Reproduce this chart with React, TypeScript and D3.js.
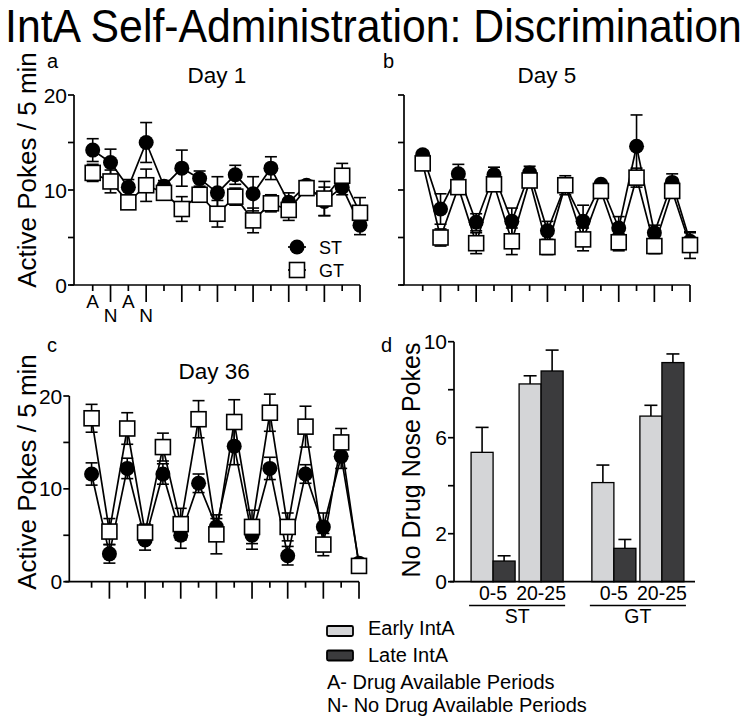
import React from 'react';
import * as d3 from 'd3';

// x categories for the time-course panels (A = drug available, N = no drug)
const periodTypes = ['A', 'N', 'A', 'N', 'A', 'N', 'A', 'N', 'A', 'N', 'A', 'N', 'A', 'N', 'A', 'N'];
const labelledPeriods = 4;

const yTicksLine = [0, 5, 10, 15, 20];
const yLabelsLine = [0, 10, 20];

// Day 1
const day1ST = [14.2, 12.9, 10.3, 15.0, 10.4, 12.3, 11.2, 9.7, 11.6, 9.6, 12.3, 8.7, 10.5, 8.8, 10.3, 6.3];
const day1STsem = [1.2, 1.4, 0.8, 2.1, 0.6, 1.9, 0.8, 1.7, 1.0, 1.8, 1.2, 1.0, 0.5, 1.5, 0.8, 1.0];
const day1GT = [11.8, 10.9, 8.7, 10.5, 9.7, 8.0, 9.5, 7.5, 9.3, 6.8, 8.6, 7.9, 10.2, 9.1, 11.5, 7.6];
const day1GTsem = [0.9, 1.2, 0.6, 1.7, 0.6, 1.3, 0.6, 1.4, 0.9, 1.3, 0.9, 1.1, 0.5, 1.8, 1.3, 1.6];

// Day 5
const day5ST = [13.7, 8.0, 11.7, 6.6, 11.6, 6.7, 11.8, 5.7, 10.5, 6.7, 10.6, 6.0, 14.6, 5.5, 10.8, 4.6];
const day5STsem = [0.4, 1.6, 1.0, 0.9, 0.8, 1.4, 0.7, 1.0, 1.0, 1.7, 0.3, 1.2, 3.3, 0.8, 0.9, 0.9];
const day5GT = [12.8, 5.0, 10.3, 4.4, 10.6, 4.6, 11.0, 4.0, 10.5, 4.8, 9.9, 4.5, 11.3, 4.1, 9.9, 4.2];
const day5GTsem = [0.6, 0.9, 0.5, 1.1, 0.5, 1.4, 0.5, 0.8, 0.4, 1.2, 0.2, 0.9, 1.0, 0.8, 0.6, 1.4];

// Day 36
const day36ST = [11.6, 3.0, 12.2, 4.5, 11.6, 5.0, 10.6, 5.9, 14.6, 5.0, 12.2, 2.8, 11.6, 5.9, 13.5, 2.0];
const day36STsem = [1.2, 1.0, 1.1, 1.1, 1.1, 1.4, 1.0, 0.9, 2.0, 1.5, 1.2, 1.0, 1.0, 1.5, 1.3, 0.3];
const day36GT = [17.6, 5.4, 16.5, 5.3, 14.5, 6.2, 17.5, 5.1, 17.2, 5.9, 18.2, 5.9, 16.7, 4.0, 15.0, 1.7];
const day36GTsem = [1.5, 1.4, 1.7, 0.9, 1.5, 1.7, 2.0, 2.1, 2.4, 1.8, 2.0, 1.5, 2.2, 1.2, 1.5, 0.3];

// Panel d
const groups = ['ST', 'GT'];
const windows = ['0-5', '20-25'];
const phases = ['Early IntA', 'Late IntA'];
const stEarly = [5.39, 8.24];
const stEarlySem = [1.04, 0.34];
const stLate = [0.86, 8.78];
const stLateSem = [0.22, 0.87];
const gtEarly = [4.13, 6.9];
const gtEarlySem = [0.73, 0.45];
const gtLate = [1.39, 9.13];
const gtLateSem = [0.37, 0.36];
const yTicksBar = [0, 2, 4, 6, 8, 10];
const yLabelsBar = [0, 2, 6, 10];

const FONT = 'Arial, "Liberation Sans", Helvetica, sans-serif';
const phaseFill = { 'Early IntA': '#d4d5d7', 'Late IntA': '#3b3b3d' };

type Series = { mean: number[]; sem: number[]; kind: 'circle' | 'square' };

const LinePanel = ({ left, right, top, bottom, xStart, title, titleY, letter, letterX, letterY, yLabels, series, showPeriodLabels }) => {
  const x = d3.scaleLinear().domain([xStart, periodTypes.length - 1]).range([left, right]);
  const y = d3.scaleLinear().domain([0, 20]).range([bottom, top]);
  const line = d3.line<number>().x((d, i) => x(i)).y(d => y(d));

  return (
    <g>
      <text x={letterX} y={letterY} fontSize={20}>{letter}</text>
      <text x={(left + right) / 2} y={titleY} fontSize={22.5} textAnchor="middle">{title}</text>

      {/* y axis */}
      <line x1={left} x2={left} y1={y(20)} y2={bottom} stroke="#000" strokeWidth={1.7} />
      {yTicksLine.map(t => (
        <line key={t} x1={left - 6} x2={left} y1={y(t)} y2={y(t)} stroke="#000" strokeWidth={1.7} />
      ))}
      {yLabels && yLabelsLine.map(t => (
        <text key={t} x={left - 7} y={y(t) + 7.5} fontSize={21} textAnchor="end">{t}</text>
      ))}

      {/* x axis */}
      <line x1={left - 4} x2={right} y1={bottom} y2={bottom} stroke="#000" strokeWidth={1.7} />
      {periodTypes.map((p, i) => (
        <line key={i} x1={x(i)} x2={x(i)} y1={bottom} y2={bottom + (p === 'N' ? 17 : 6)} stroke="#000" strokeWidth={1.7} />
      ))}
      {showPeriodLabels && periodTypes.slice(0, labelledPeriods).map((p, i) => (
        <text key={i} x={x(i)} y={bottom + (p === 'N' ? 37 : 23)} fontSize={19} textAnchor="middle">{p}</text>
      ))}

      {series.map((s: Series, si: number) => (
        <g key={si}>
          {s.mean.map((m, i) => (
            <g key={i} stroke="#000" strokeWidth={1.6}>
              <line x1={x(i)} x2={x(i)} y1={y(m - s.sem[i])} y2={y(m + s.sem[i])} />
              <line x1={x(i) - 6} x2={x(i) + 6} y1={y(m + s.sem[i])} y2={y(m + s.sem[i])} />
              <line x1={x(i) - 6} x2={x(i) + 6} y1={y(m - s.sem[i])} y2={y(m - s.sem[i])} />
            </g>
          ))}
          <path d={line(s.mean) || ''} fill="none" stroke="#000" strokeWidth={1.7} />
          {s.mean.map((m, i) => s.kind === 'circle'
            ? <circle key={i} cx={x(i)} cy={y(m)} r={7.5} fill="#000" />
            : <rect key={i} x={x(i) - 7.5} y={y(m) - 7.5} width={15} height={15} fill="#fff" stroke="#000" strokeWidth={1.6} />
          )}
        </g>
      ))}
    </g>
  );
};

const BarPanel = () => {
  const left = 454, right = 695, top = 341.7, bottom = 581.7;
  const y = d3.scaleLinear().domain([0, 10]).range([bottom, top]);
  const gx = d3.scaleBand().domain(groups).range([459, 696]).paddingInner(0.238).paddingOuter(0.1);
  const wx = d3.scaleBand().domain(windows).range([0, gx.bandwidth()]).paddingInner(0.0833);
  const px = d3.scaleBand().domain(phases).range([0, wx.bandwidth()]);

  const values = {
    ST: { 'Early IntA': [stEarly, stEarlySem], 'Late IntA': [stLate, stLateSem] },
    GT: { 'Early IntA': [gtEarly, gtEarlySem], 'Late IntA': [gtLate, gtLateSem] }
  };

  return (
    <g>
      <text x={381} y={352} fontSize={20}>d</text>
      <text transform={`translate(420,460) rotate(-90)`} fontSize={25} textAnchor="middle">No Drug Nose Pokes</text>

      <line x1={left} x2={left} y1={top} y2={bottom} stroke="#000" strokeWidth={1.7} />
      {yTicksBar.map(t => (
        <line key={t} x1={left - 6} x2={left} y1={y(t)} y2={y(t)} stroke="#000" strokeWidth={1.7} />
      ))}
      {yLabelsBar.map(t => (
        <text key={t} x={left - 7} y={y(t) + 7.5} fontSize={21} textAnchor="end">{t}</text>
      ))}

      {groups.map(g => (
        <g key={g}>
          {windows.map((w, wi) => phases.map(ph => {
            const [means, sems] = values[g][ph];
            const bx = gx(g) + wx(w) + px(ph);
            const bw = px.bandwidth();
            const m = means[wi];
            const e = m + sems[wi];
            return (
              <g key={w + ph}>
                <line x1={bx + bw / 2} x2={bx + bw / 2} y1={y(m)} y2={y(e)} stroke="#000" strokeWidth={1.6} />
                <line x1={bx + bw / 2 - 6.5} x2={bx + bw / 2 + 6.5} y1={y(e)} y2={y(e)} stroke="#000" strokeWidth={1.6} />
                <rect x={bx} y={y(m)} width={bw} height={bottom - y(m)} fill={phaseFill[ph]} stroke="#000" strokeWidth={1.3} />
              </g>
            );
          }))}
          {windows.map(w => (
            <text key={w} x={gx(g) + wx(w) + wx.bandwidth() / 2} y={600} fontSize={19.5} textAnchor="middle">{w}</text>
          ))}
          <line x1={gx(g) - 2} x2={gx(g) + gx.bandwidth() + 2} y1={605.5} y2={605.5} stroke="#000" strokeWidth={1.5} />
          <text x={gx(g) + gx.bandwidth() / 2} y={623} fontSize={19.5} textAnchor="middle">{g}</text>
        </g>
      ))}

      <line x1={left - 4} x2={right} y1={bottom} y2={bottom} stroke="#000" strokeWidth={1.7} />
    </g>
  );
};

export default function App() {
  return (
    <svg width={754} height={725} style={{ position: 'absolute', left: 0, top: 0, background: '#fff' }} fontFamily={FONT}>
      <rect width={754} height={725} fill="#fff" />
      <text transform="translate(5,42) scale(0.93,1)" fontSize={46}>IntA Self-Administration: Discrimination</text>

      <text transform="translate(36,170) rotate(-90)" fontSize={26} textAnchor="middle">Active Pokes / 5 min</text>
      <text transform="translate(36,472) rotate(-90)" fontSize={26} textAnchor="middle">Active Pokes / 5 min</text>

      <LinePanel left={74} right={360} top={95} bottom={285} xStart={-1.05} title="Day 1" titleY={83}
        letter="a" letterX={47} letterY={68} yLabels showPeriodLabels
        series={[{ mean: day1ST, sem: day1STsem, kind: 'circle' }, { mean: day1GT, sem: day1GTsem, kind: 'square' }]} />
      <LinePanel left={404} right={690} top={95} bottom={285} xStart={-1.05} title="Day 5" titleY={83}
        letter="b" letterX={383} letterY={68} yLabels={false} showPeriodLabels={false}
        series={[{ mean: day5ST, sem: day5STsem, kind: 'circle' }, { mean: day5GT, sem: day5GTsem, kind: 'square' }]} />
      <LinePanel left={69.3} right={359} top={396} bottom={581.7} xStart={-1.25} title="Day 36" titleY={379}
        letter="c" letterX={47} letterY={352} yLabels showPeriodLabels={false}
        series={[{ mean: day36ST, sem: day36STsem, kind: 'circle' }, { mean: day36GT, sem: day36GTsem, kind: 'square' }]} />

      {/* legend, panel a */}
      <g stroke="#000" strokeWidth={1.7}>
        <line x1={288} x2={306} y1={247} y2={247} />
        <line x1={288} x2={306} y1={270} y2={270} />
      </g>
      <circle cx={297} cy={247} r={7.5} fill="#000" />
      <rect x={289.5} y={262.5} width={15} height={15} fill="#fff" stroke="#000" strokeWidth={1.6} />
      <text x={319} y={254} fontSize={18}>ST</text>
      <text x={319} y={277} fontSize={18}>GT</text>

      <BarPanel />

      {/* bottom legend */}
      {phases.map((ph, i) => (
        <g key={ph}>
          <rect x={327} y={626 + i * 24.5} width={26} height={10} rx={1.5} fill={phaseFill[ph]} stroke="#000" strokeWidth={1.8} />
          <text x={368} y={635 + i * 27} fontSize={20}>{ph}</text>
        </g>
      ))}
      <text x={327} y={689} fontSize={20}>A- Drug Available Periods</text>
      <text x={327} y={712} fontSize={20}>N- No Drug Available Periods</text>
    </svg>
  );
}
